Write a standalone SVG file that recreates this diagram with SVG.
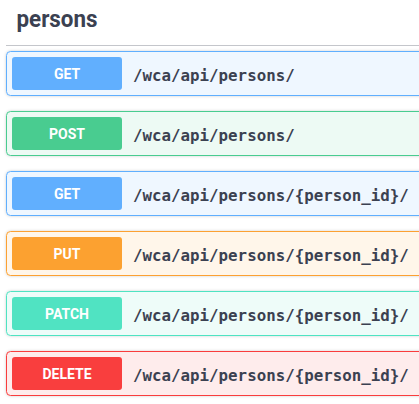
<svg xmlns="http://www.w3.org/2000/svg" width="419" height="404" viewBox="0 0 419 404">
<defs>
<filter id="sh" x="-5%" y="-20%" width="110%" height="140%">
<feDropShadow dx="0" dy="0" stdDeviation="1.5" flood-color="#000" flood-opacity="0.19"/>
</filter>
</defs>
<style>
.blk{stroke-width:1;filter:url(#sh)}
.btn{stroke:none}
.m{font-family:Roboto,"Noto Sans",sans-serif;font-weight:700;font-size:14px;fill:#fff;text-anchor:middle}
.p{font-family:"DejaVu Sans Mono","Liberation Mono",monospace;font-weight:600;font-size:15.8px;fill:#3b4151}
.get .blk{fill:#eff7ff;stroke:#61affe}.get .btn{fill:#61affe}
.post .blk{fill:#edfaf4;stroke:#49cc90}.post .btn{fill:#49cc90}
.put .blk{fill:#fff6ea;stroke:#fca130}.put .btn{fill:#fca130}
.patch .blk{fill:#eefcf9;stroke:#50e3c2}.patch .btn{fill:#50e3c2}
.del .blk{fill:#feecec;stroke:#f93e3e}.del .btn{fill:#f93e3e}
</style>
<rect width="419" height="404" fill="#fff"/>
<g id="tag">
<text x="16.5" y="27" font-family="Roboto,'Noto Sans',sans-serif" font-weight="700" font-size="24" fill="#3b4151" textLength="81" lengthAdjust="spacingAndGlyphs">persons</text>
<line x1="6" y1="45.5" x2="419" y2="45.5" stroke="#c4c6cb" stroke-width="1"/>
</g>
<g id="op1" class="get">
<rect class="blk" x="6.5" y="51.5" width="420" height="44" rx="4"/>
<rect class="btn" x="12" y="57" width="110" height="33" rx="3"/>
<text class="m" x="67" y="79">GET</text>
<text class="p" x="133" y="81">/wca/api/persons/</text>
</g>
<g id="op2" class="post">
<rect class="blk" x="6.5" y="111.5" width="420" height="44" rx="4"/>
<rect class="btn" x="12" y="117" width="110" height="33" rx="3"/>
<text class="m" x="67" y="139">POST</text>
<text class="p" x="133" y="141">/wca/api/persons/</text>
</g>
<g id="op3" class="get">
<rect class="blk" x="6.5" y="171.5" width="420" height="44" rx="4"/>
<rect class="btn" x="12" y="177" width="110" height="33" rx="3"/>
<text class="m" x="67" y="199">GET</text>
<text class="p" x="133" y="201">/wca/api/persons/{person_id}/</text>
</g>
<g id="op4" class="put">
<rect class="blk" x="6.5" y="231.5" width="420" height="44" rx="4"/>
<rect class="btn" x="12" y="237" width="110" height="33" rx="3"/>
<text class="m" x="67" y="259">PUT</text>
<text class="p" x="133" y="261">/wca/api/persons/{person_id}/</text>
</g>
<g id="op5" class="patch">
<rect class="blk" x="6.5" y="291.5" width="420" height="44" rx="4"/>
<rect class="btn" x="12" y="297" width="110" height="33" rx="3"/>
<text class="m" x="67" y="319">PATCH</text>
<text class="p" x="133" y="321">/wca/api/persons/{person_id}/</text>
</g>
<g id="op6" class="del">
<rect class="blk" x="6.5" y="351.5" width="420" height="44" rx="4"/>
<rect class="btn" x="12" y="357" width="110" height="33" rx="3"/>
<text class="m" x="67" y="379">DELETE</text>
<text class="p" x="133" y="381">/wca/api/persons/{person_id}/</text>
</g>
<g id="connectors"/>
</svg>
